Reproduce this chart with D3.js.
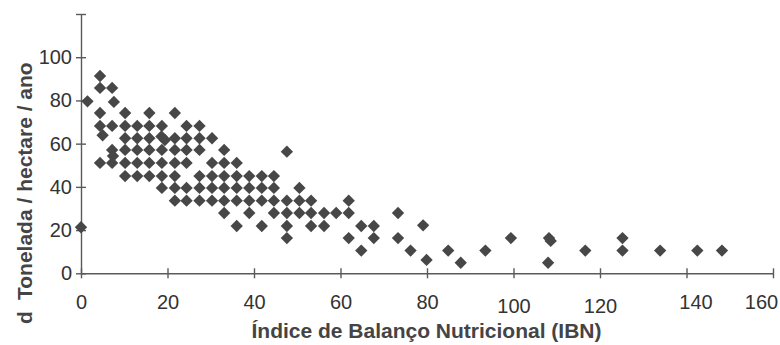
<!DOCTYPE html>
<html>
<head>
<meta charset="utf-8">
<script src="https://cdn.jsdelivr.net/npm/d3@7"></script>
<style>
  body { margin: 0; background: #fff; }
  svg { display: block; font-family: "Liberation Sans", Arial, sans-serif; }
</style>
</head>
<body>
<div id="chart"></div>
<script>
// IBN (x) and yield (y), grouped roughly by row
const ibn = [
  4.4,
  4.4, 7.2,
  1.5, 7.6,
  4.4, 10.2, 15.8, 21.7,
  4.4, 7.2, 10.2, 13.0, 15.8, 18.7, 24.4, 27.4,
  5.0,
  10.2, 13.0, 15.8, 18.6, 19.4, 21.7, 24.4, 27.4, 30.3,
  7.2, 10.2, 13.0, 15.8, 18.7, 21.7, 24.4, 27.4, 33.1,
  7.4, 47.6,
  4.4, 7.2, 10.2, 13.0, 15.8, 18.7, 21.7, 24.4, 30.3, 33.1, 36.0,
  10.2, 13.0, 15.8, 18.7, 21.7, 27.4, 30.3, 33.1, 36.0, 38.9, 41.8, 44.6,
  18.7, 21.7, 24.4, 27.4, 30.3, 33.1, 36.0, 38.9, 41.8, 44.6, 50.5,
  21.7, 24.4, 27.4, 30.3, 33.1, 36.0, 38.9, 41.8, 44.6, 47.6, 50.5, 53.2, 61.9,
  33.1, 38.9, 44.6, 47.6, 50.5, 53.2, 56.2, 59.0, 61.9, 73.3,
  0, 36.0, 41.8, 47.6, 53.2, 56.2, 64.8, 67.7, 79.1,
  47.6, 61.9, 67.7, 73.3, 99.4, 108.2, 108.6, 125.2,
  64.8, 76.2, 84.9, 93.5, 116.6, 125.2, 133.9, 142.5, 148.2,
  79.9, 87.8, 108.0
];
const tonHa = [
  91.3,
  85.8, 85.8,
  79.6, 79.3,
  74.2, 74.2, 74.2, 74.2,
  68.2, 68.2, 68.2, 68.2, 68.2, 68.2, 68.2, 68.2,
  63.9,
  62.5, 62.5, 62.5, 63.3, 61.7, 62.5, 62.5, 62.5, 62.5,
  57.1, 57.1, 57.1, 57.1, 57.1, 57.1, 57.1, 57.1, 57.1,
  54.3, 56.3,
  51.1, 51.1, 51.1, 51.1, 51.1, 51.1, 51.1, 51.1, 51.1, 51.1, 51.1,
  45.0, 45.0, 45.0, 45.0, 45.0, 45.0, 45.0, 45.0, 45.0, 45.0, 45.0, 45.0,
  39.5, 39.5, 39.5, 39.5, 39.5, 39.5, 39.5, 39.5, 39.5, 39.5, 39.5,
  33.6, 33.6, 33.6, 33.6, 33.6, 33.6, 33.6, 33.6, 33.6, 33.6, 33.6, 33.6, 33.6,
  27.9, 27.9, 27.9, 27.9, 27.9, 27.9, 27.9, 27.9, 27.9, 27.9,
  21.3, 21.9, 21.9, 21.9, 21.9, 21.9, 21.9, 21.9, 22.2,
  16.3, 16.3, 16.3, 16.3, 16.3, 16.3, 15.0, 16.3,
  10.5, 10.5, 10.5, 10.5, 10.5, 10.5, 10.5, 10.5, 10.5,
  6.2, 4.9, 4.9
];

const xTicks = [0, 20, 40, 60, 80, 100, 120, 140, 160];
const yTicks = [0, 20, 40, 60, 80, 100, 120];
const yLabelled = [0, 20, 40, 60, 80, 100];

const width = 780, height = 345;
const axisColor = '#5a5a5a';

const svg = d3.select('#chart').append('svg')
  .attr('width', width).attr('height', height)
  .style('background', '#fff');

const x = d3.scaleLinear().domain([0, 160]).range([81, 773]);
const y = d3.scaleLinear().domain([0, 120]).range([273.3, 14]);

// x axis, ticks cross the line
const gx = svg.append('g')
  .attr('transform', `translate(0,${y(0)})`)
  .call(d3.axisBottom(x).tickValues(xTicks).tickSize(5).tickSizeOuter(0).tickPadding(17));

// a few labels sit off their tick in the original
const nudge = { 100: [0, 4], 120: [0, 4], 140: [9, 0], 160: [-12, 0] };
gx.selectAll('.tick text')
  .attr('dx', d => nudge[d] ? nudge[d][0] : 0)
  .attr('y', d => 22 + (nudge[d] ? nudge[d][1] : 0))
  .attr('dy', '0.71em');

// y axis
const gy = svg.append('g')
  .attr('transform', `translate(${x(0)},0)`)
  .call(d3.axisLeft(y).tickValues(yTicks).tickSize(5).tickSizeOuter(0).tickPadding(4)
    .tickFormat(d => yLabelled.includes(d) ? d : ''));

gx.selectAll('.tick line').attr('y1', -5);
gy.selectAll('.tick line').attr('x1', 5);

[gx, gy].forEach(g => {
  g.select('.domain').attr('stroke', axisColor).attr('stroke-width', 1.4);
  g.selectAll('.tick line').attr('stroke', axisColor).attr('stroke-width', 1.4);
  g.selectAll('.tick text')
    .attr('fill', '#333')
    .attr('font-size', 20)
    .attr('font-family', '"Liberation Sans", Arial, sans-serif');
});

// diamonds: a square turned 45 degrees
const diamond = d3.symbol().type(d3.symbolSquare).size(76);
const points = ibn.map((v, i) => ({ ibn: v, ton: tonHa[i] }));

svg.append('g').attr('class', 'points')
  .selectAll('path').data(points)
  .enter()
  .append('path')
  .attr('d', diamond)
  .attr('transform', d => `translate(${x(d.ibn)},${y(d.ton)}) rotate(45)`)
  .attr('fill', '#474747');

// axis titles
svg.append('text')
  .attr('x', 426.5).attr('y', 338)
  .attr('text-anchor', 'middle')
  .attr('font-size', 21).attr('font-weight', 'bold')
  .attr('fill', '#444')
  .text('Índice de Balanço Nutricional (IBN)');

svg.append('text')
  .attr('transform', 'translate(32,300) rotate(-90)')
  .attr('text-anchor', 'start')
  .attr('font-size', 21).attr('font-weight', 'bold')
  .attr('fill', '#444')
  .text('Tonelada / hectare / ano');

// the wrapped last letter of the y title
svg.append('text')
  .attr('transform', 'translate(32,324) rotate(-90)')
  .attr('text-anchor', 'start')
  .attr('font-size', 21).attr('font-weight', 'bold')
  .attr('fill', '#444')
  .text('d');
</script>
</body>
</html>
